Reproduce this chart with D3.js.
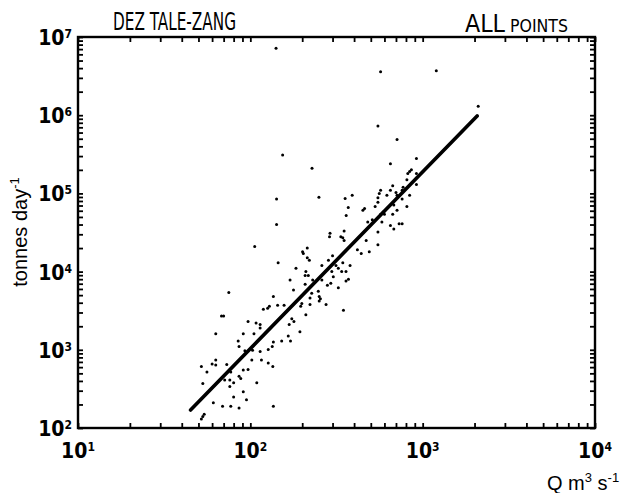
<!DOCTYPE html>
<html lang="en">
<head>
    <meta charset="UTF-8">
    <title>Dez Tale-Zang sediment rating</title>
    <script src="https://cdn.jsdelivr.net/npm/d3@7"></script>
    <style>
        body {
            margin: 0;
            background: #fff;
        }
        .hand {
            font-family: "Liberation Sans Narrow", "DejaVu Sans Condensed", sans-serif;
        }
        .axis-title {
            font-family: "Liberation Sans", Arial, sans-serif;
        }
    </style>
</head>
<body>
    <div id="chart"></div>

    <script>
        // discharge (m3/s) and sediment load (tonnes/day)
        const flowQ = [
            97, 108, 114, 114, 63, 91, 105, 85, 86, 93, 103, 114, 127, 102, 116, 127,
            52, 60, 63, 63, 73, 56, 77, 91, 97, 86, 88, 71, 76, 80, 109, 53, 76, 91,
            80, 95, 61, 69, 77, 86, 54, 53, 52,
            168, 179, 194, 166, 152, 171, 136, 134, 135, 136,
            106, 75, 68, 70, 119, 126, 129,
            360, 142, 350, 290, 288, 335, 344, 350, 214, 201, 203, 214, 220, 300, 418,
            145, 184, 260, 284, 344, 379, 314, 324, 339, 210, 217, 208, 297, 303, 359,
            371, 359, 170, 230, 260, 280, 293, 208, 324, 178, 248, 227, 136, 251, 255,
            251, 222, 199, 196, 157, 144, 222, 275, 347, 210, 174,
            550, 710, 920, 650, 860, 840, 820, 920, 810, 920, 670, 770, 760, 570, 560,
            700, 710, 650, 620, 840, 550, 550, 760, 680, 530, 460, 450, 810, 710, 590,
            600, 570, 670, 480, 510, 580, 650, 680, 730, 760, 550, 470, 550, 490, 440,
            154, 228, 142, 250, 355, 390, 370,
            141, 570, 1200, 2100
        ];
        const load = [
            2300, 2200, 2100, 1900, 1600, 1600, 1600, 1300, 1100, 970, 990, 950, 1010, 740, 740, 680,
            610, 660, 740, 640, 650, 520, 520, 550, 560, 460, 430, 410, 410, 380, 380, 370, 340, 290,
            250, 230, 210, 190, 190, 180, 150, 140, 130,
            2100, 2300, 1700, 1500, 1300, 1300, 1260, 1100, 610, 190,
            21000, 5400, 2700, 2700, 3300, 3400, 3600,
            52000, 40000, 33000, 31000, 28000, 28000, 27000, 25000, 20000, 18000, 17000, 15000, 14000, 16000, 19000,
            13000, 11000, 12000, 14000, 13000, 12000, 12000, 11000, 10000, 10000, 8900, 8900, 10000, 8600, 10000,
            8000, 7600, 7800, 7800, 7800, 6700, 7100, 6900, 6200, 5800, 5600, 5300, 4800, 4800, 4500,
            4200, 4600, 3900, 3600, 3700, 3700, 3800, 3800, 3200, 2800, 2500,
            730000, 490000, 280000, 240000, 200000, 190000, 180000, 180000, 150000, 130000, 125000, 120000, 110000, 110000, 100000,
            103000, 95000, 110000, 95000, 95000, 88000, 77000, 85000, 71000, 68000, 64000, 61000, 68000, 61000, 58000,
            54000, 54000, 54000, 43000, 46000, 43000, 39000, 35000, 41000, 41000, 32000, 25000, 22000, 18000, 17000,
            310000, 210000, 85000, 89000, 86000, 95000, 66000,
            7200000, 3600000, 3700000, 1300000
        ];

        // fitted rating line, end points
        const lineQ = [45, 2070];
        const lineLoad = [170, 980000];

        const xDecades = [10, 100, 1000, 10000];
        const yDecades = [100, 1000, 10000, 100000, 1000000, 10000000];

        const width = 627, height = 493;
        const plotL = 78, plotR = 595, plotT = 37, plotB = 428;

        const svg = d3.select("#chart")
            .append("svg")
            .attr("width", width)
            .attr("height", height);

        const x = d3.scaleLog().domain([10, 10000]).range([plotL, plotR]);
        const y = d3.scaleLog().domain([100, 10000000]).range([plotB, plotT]);

        // ticks on all four sides, pointing inward
        const xTicks = x.ticks();
        const yTicks = y.ticks();

        const axes = [
            {axis: d3.axisBottom(x).tickValues(xTicks).tickSize(-5), t: `translate(0,${plotB})`},
            {axis: d3.axisTop(x).tickValues(xTicks).tickSize(-5), t: `translate(0,${plotT})`},
            {axis: d3.axisLeft(y).tickValues(yTicks).tickSize(-5), t: `translate(${plotL},0)`},
            {axis: d3.axisRight(y).tickValues(yTicks).tickSize(-5), t: `translate(${plotR},0)`}
        ];
        axes.forEach(a => {
            const g = svg.append("g")
                .attr("transform", a.t)
                .call(a.axis.tickFormat(""));
            g.select(".domain").remove();
            g.selectAll("line").attr("stroke", "#000").attr("stroke-width", 1.8);
        });

        // frame
        svg.append("rect")
            .attr("x", plotL)
            .attr("y", plotT)
            .attr("width", plotR - plotL)
            .attr("height", plotB - plotT)
            .attr("fill", "none")
            .attr("stroke", "#000")
            .attr("stroke-width", 2.4);

        // decade labels, 10 with superscript exponent
        const xLab = svg.append("g").attr("class", "hand");
        xDecades.forEach(d => {
            const t = xLab.append("text")
                .attr("x", x(d))
                .attr("y", plotB + 30)
                .attr("text-anchor", "middle")
                .attr("font-size", "21px")
                .attr("font-weight", "bold");
            t.append("tspan").text("10");
            t.append("tspan").attr("font-size", "12px").attr("dy", -7).text(Math.round(Math.log10(d)));
        });

        const yLab = svg.append("g").attr("class", "hand");
        yDecades.forEach(d => {
            const t = yLab.append("text")
                .attr("x", plotL - 6)
                .attr("y", y(d) + 8)
                .attr("text-anchor", "end")
                .attr("font-size", "21px")
                .attr("font-weight", "bold");
            t.append("tspan").text("10");
            t.append("tspan").attr("font-size", "12px").attr("dy", -7).text(Math.round(Math.log10(d)));
        });

        // titles
        svg.append("text")
            .attr("class", "hand")
            .attr("x", 113)
            .attr("y", 30)
            .attr("font-size", "24px")
            .attr("textLength", 123)
            .attr("lengthAdjust", "spacingAndGlyphs")
            .text("DEZ TALE-ZANG");

        const allPts = svg.append("text")
            .attr("class", "hand")
            .attr("x", 465)
            .attr("y", 32)
            .attr("font-size", "24px")
            .attr("textLength", 103)
            .attr("lengthAdjust", "spacingAndGlyphs");
        allPts.append("tspan").text("ALL");
        allPts.append("tspan").attr("font-size", "17px").text(" POINTS");

        const qTitle = svg.append("text")
            .attr("class", "axis-title")
            .attr("x", 547)
            .attr("y", 490)
            .attr("font-size", "20px");
        qTitle.append("tspan").text("Q m");
        qTitle.append("tspan").attr("font-size", "13px").attr("dy", -8).text("3");
        qTitle.append("tspan").attr("dy", 8).text(" s");
        qTitle.append("tspan").attr("font-size", "13px").attr("dy", -8).text("-1");

        const yTitle = svg.append("text")
            .attr("class", "axis-title")
            .attr("transform", "translate(27,232) rotate(-90)")
            .attr("text-anchor", "middle")
            .attr("font-size", "20px");
        yTitle.append("tspan").text("tonnes day");
        yTitle.append("tspan").attr("font-size", "13px").attr("dy", -8).text("-1");

        // rating line
        svg.append("path")
            .datum(d3.zip(lineQ, lineLoad))
            .attr("d", d3.line().x(d => x(d[0])).y(d => y(d[1])))
            .attr("fill", "none")
            .attr("stroke", "#000")
            .attr("stroke-width", 3.6)
            .attr("stroke-linecap", "round");

        // observations
        svg.append("g")
            .selectAll("circle")
            .data(d3.zip(flowQ, load))
            .join("circle")
            .attr("cx", d => x(d[0]))
            .attr("cy", d => y(d[1]))
            .attr("r", 1.5)
            .attr("fill", "#000");
    </script>
</body>
</html>
